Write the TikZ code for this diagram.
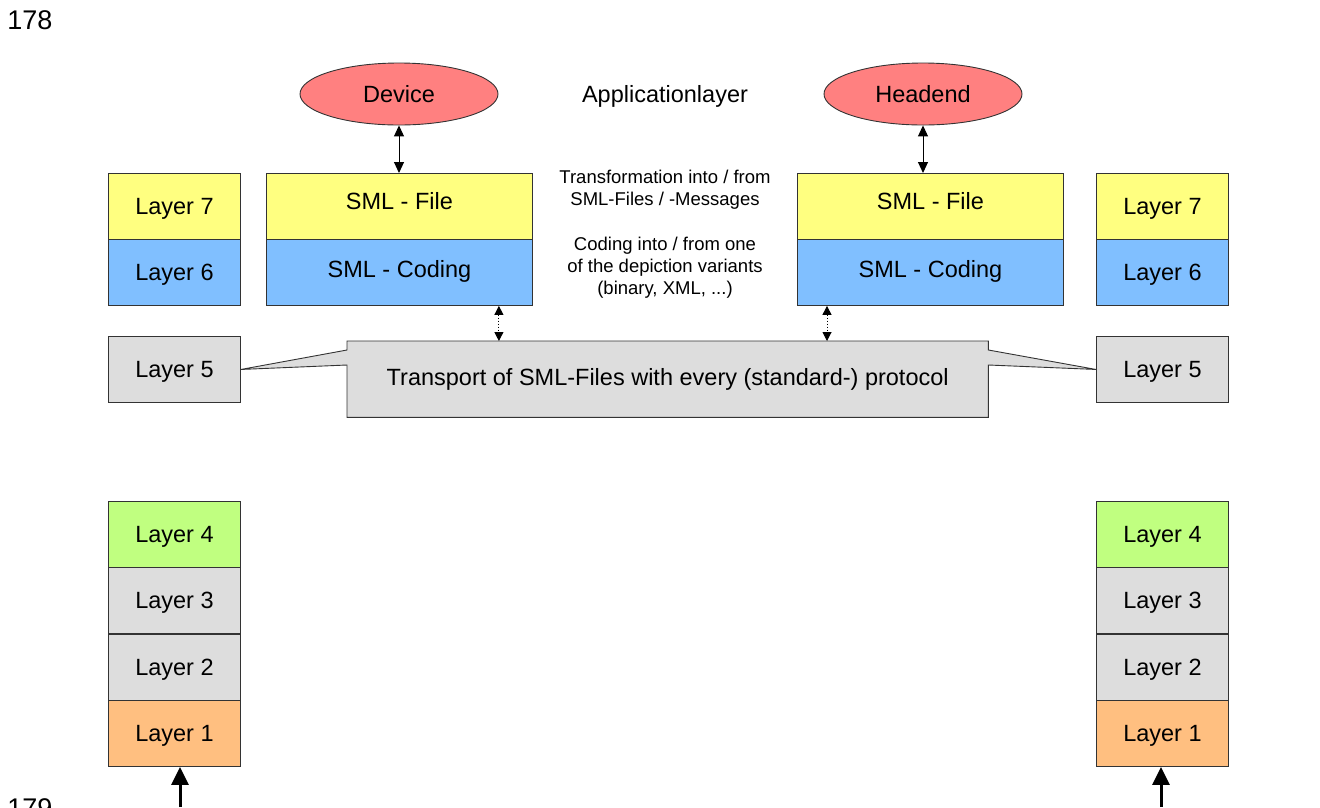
\documentclass[tikz,border=0pt]{standalone}
\usepackage{fontspec}
\setmainfont{Liberation Sans}
\usetikzlibrary{arrows.meta,shapes.geometric}
\definecolor{cyel}{HTML}{FFFF80}
\definecolor{cblu}{HTML}{80BFFF}
\definecolor{cgry}{HTML}{DDDDDD}
\definecolor{cgrn}{HTML}{C0FF80}
\definecolor{corg}{HTML}{FFBF80}
\definecolor{cred}{HTML}{FF8080}
\definecolor{cedge}{HTML}{333333}
\begin{document}
\begin{tikzpicture}[x=1pt,y=-1pt,
  big/.style={font=\fontsize{23.5}{27}\selectfont},
  box/.style={draw=cedge,line width=0.9pt,minimum width=132pt,minimum height=66pt,inner sep=0pt,big,anchor=north west,text depth=1pt},
  wbox/.style={box,minimum width=266pt},
  oval/.style={ellipse,draw=cedge,line width=0.9pt,fill=cred,minimum width=198pt,minimum height=62pt,inner sep=0pt,big},
  sarrow/.style={{Triangle[length=11pt,width=10pt]}-{Triangle[length=11pt,width=10pt]},line width=1pt},
  darrow/.style={{Triangle[length=9pt,width=9pt]}-{Triangle[length=9pt,width=9pt]},line width=1pt,dotted},
  barrow/.style={-{Triangle[length=18pt,width=17pt]},line width=3pt},
  note/.style={font=\fontsize{18.5}{22}\selectfont,align=center}]
\useasboundingbox (0,0) rectangle (1320,807);

\node[font=\fontsize{27}{30}\selectfont] (n178) at (30,20) {178};
\node[font=\fontsize{27}{30}\selectfont,anchor=north] (n179) at (30,795) {179};

% left stack
\node[box,fill=cyel] (l7) at (108,173) {Layer 7};
\node[box,fill=cblu] (l6) at (108,239) {Layer 6};
\node[box,fill=cgry] (l5) at (108,336) {Layer 5};
\node[box,fill=cgrn] (l4) at (108,501) {Layer 4};
\node[box,fill=cgry] (l3) at (108,567) {Layer 3};
\node[box,fill=cgry] (l2) at (108,634) {Layer 2};
\node[box,fill=corg] (l1) at (108,700) {Layer 1};

% right stack
\node[box,fill=cyel] (r7) at (1096,173) {Layer 7};
\node[box,fill=cblu] (r6) at (1096,239) {Layer 6};
\node[box,fill=cgry] (r5) at (1096,336) {Layer 5};
\node[box,fill=cgrn] (r4) at (1096,501) {Layer 4};
\node[box,fill=cgry] (r3) at (1096,567) {Layer 3};
\node[box,fill=cgry] (r2) at (1096,634) {Layer 2};
\node[box,fill=corg] (r1) at (1096,700) {Layer 1};

% SML boxes
\node[wbox,fill=cyel,text depth=10pt] (lf) at (266,173) {SML - File};
\node[wbox,fill=cblu,text depth=7pt] (lc) at (266,239) {SML - Coding};
\node[wbox,fill=cyel,text depth=10pt] (rf) at (797,173) {SML - File};
\node[wbox,fill=cblu,text depth=7pt] (rc) at (797,239) {SML - Coding};

% ellipses
\node[oval] (dev) at (399,94) {Device};
\node[oval] (head) at (923,94) {Headend};
\node[big] (app) at (665,96) {Applicationlayer};

\draw[sarrow] (dev.south) -- (dev.south |- lf.north);
\draw[sarrow] (head.south) -- (head.south |- rf.north);

% notes
\node[note] (t1) at (665,190) {Transformation into / from\\SML-Files / -Messages};
\node[note] (t2) at (665,268) {Coding into / from one\\of the depiction variants\\(binary, XML, ...)};

% callout
\node[big,minimum width=641pt,minimum height=76pt,inner sep=0pt,anchor=north west] (tr) at (347,341) {};
\draw[draw=cedge,line width=0.9pt,fill=cgry]
  (tr.north west) -- (tr.north east) -- ([yshift=-9pt]tr.north east) -- (r5.west)
  -- ([yshift=-24pt]tr.north east) -- (tr.south east) -- (tr.south west)
  -- ([yshift=-24pt]tr.north west) -- (l5.east) -- ([yshift=-9pt]tr.north west) -- cycle;
\node[big] (trtext) at (tr.center) {Transport of SML-Files with every (standard-) protocol};

\draw[darrow] (lc.south east) ++(-34pt,0) coordinate (da) -- (da |- tr.north);
\draw[darrow] (rc.south west) ++(30pt,0) coordinate (db) -- (db |- tr.north);

% bottom arrows
\coordinate (lb) at (180,807);
\coordinate (rb) at (1161,807);
\draw[barrow] (lb) -- (lb |- l1.south);
\draw[barrow] (rb) -- (rb |- r1.south);
\end{tikzpicture}
\end{document}
